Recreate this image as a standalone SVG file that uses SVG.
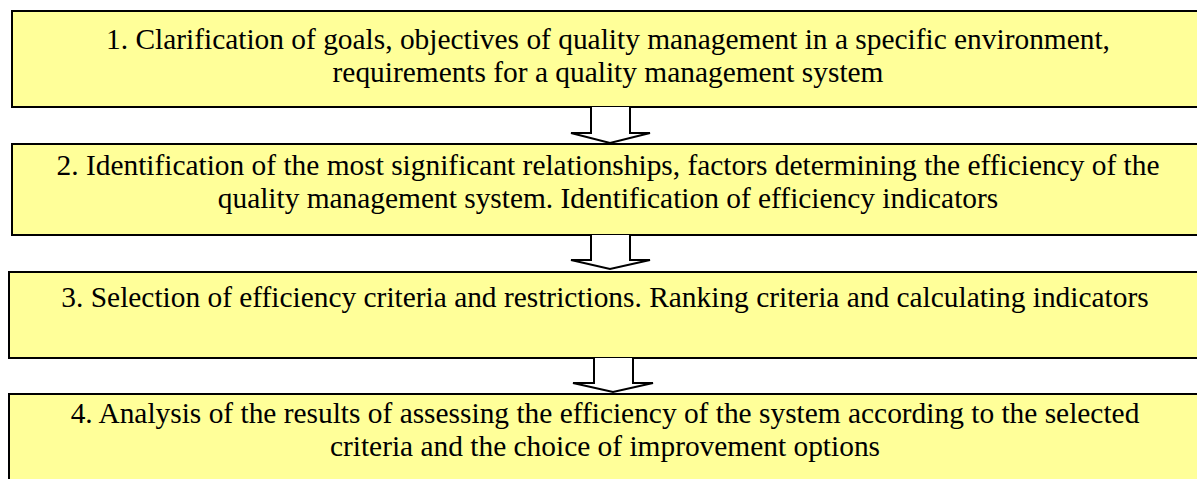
<svg xmlns="http://www.w3.org/2000/svg" width="1197" height="479" viewBox="0 0 1197 479">
<style>
.box{fill:#FFFF99;stroke:#000;stroke-width:2}
.t{font-family:"Liberation Serif","Times New Roman",serif;font-size:29.4px;fill:#000;text-anchor:middle}
.arr{fill:#fff;stroke:#000;stroke-width:2;stroke-linejoin:miter}
</style>
<rect width="1197" height="479" fill="#fff"/>
<g id="node1">
<rect class="box" x="12" y="11" width="1200" height="96"/>
<text class="t" x="608" y="49">1. Clarification of goals, objectives of quality management in a specific environment,</text>
<text class="t" x="608" y="82">requirements for a quality management system</text>
</g>
<g id="node2">
<rect class="box" x="12" y="144" width="1200" height="91"/>
<text class="t" x="608" y="175">2. Identification of the most significant relationships, factors determining the efficiency of the</text>
<text class="t" x="608" y="208">quality management system. Identification of efficiency indicators</text>
</g>
<g id="node3">
<rect class="box" x="9" y="272" width="1200" height="86"/>
<text class="t" x="605" y="307">3. Selection of efficiency criteria and restrictions. Ranking criteria and calculating indicators</text>
</g>
<g id="node4">
<rect class="box" x="9" y="394" width="1200" height="100"/>
<text class="t" x="605" y="423">4. Analysis of the results of assessing the efficiency of the system according to the selected</text>
<text class="t" x="605" y="456">criteria and the choice of improvement options</text>
</g>
<g id="connectors">
<path class="arr" d="M591 107 V133 H571 L610 143 L650 133 H630 V107"/>
<path class="arr" d="M591 235 V260 H571 L610 269 L650 260 H630 V235"/>
<path class="arr" d="M594 358 V383 H573 L613 392 L653 383 H633 V358"/>
</g>
</svg>
